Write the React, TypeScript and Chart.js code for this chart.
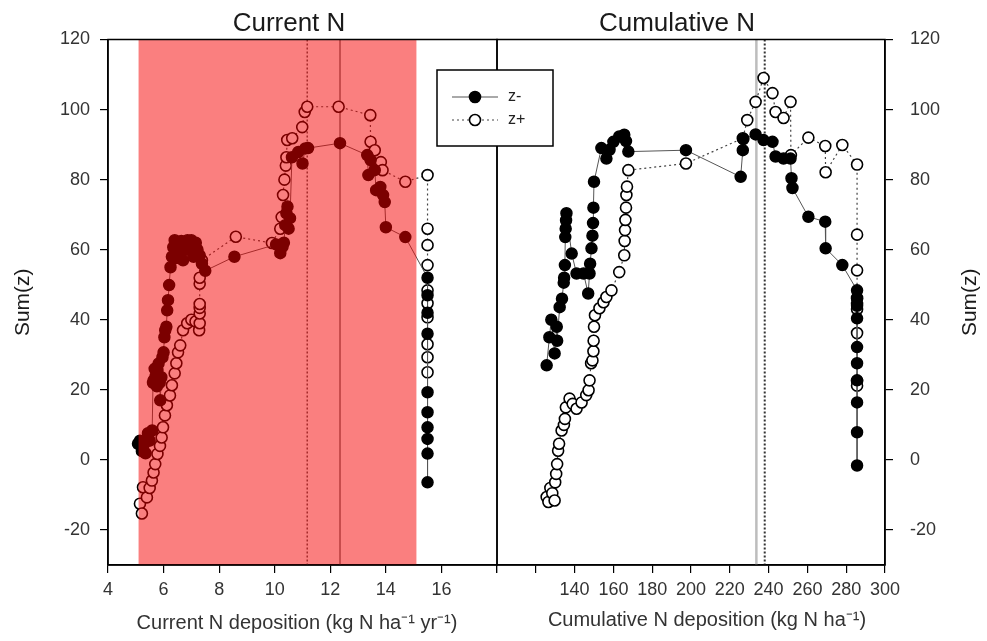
import React, { useEffect, useRef } from "react";
import { Chart, registerables } from "chart.js";
Chart.register(...registerables);

const FONT = '"Liberation Sans", Arial, Helvetica, sans-serif';

// ---------- DATA ----------
// Current N deposition panel: [x (kg N ha-1 yr-1), Sum(z)]
const currentZMinus: number[][] = [
  [5.08, 4.6], [5.15, 5.5], [5.22, 2.5], [5.26, 3.6], [5.35, 1.9], [5.44, 7.6], [5.5, 5.5], [5.59, 8.4],
  [5.62, 22], [5.64, 22.7], [5.68, 26], [5.72, 24], [5.76, 21], [5.78, 25.6], [5.82, 27.5], [5.86, 22],
  [5.88, 17], [5.92, 23.6], [5.96, 29.3], [6.0, 30.7], [6.03, 35], [6.06, 37], [6.1, 38], [6.13, 42.7],
  [6.16, 45.6], [6.2, 49.9], [6.25, 55], [6.3, 58], [6.35, 60.7], [6.4, 62.7], [6.46, 57.6], [6.52, 62],
  [6.58, 59.5], [6.64, 62.5], [6.7, 57], [6.78, 60], [6.86, 62.7], [6.94, 59.9], [7.0, 62.7], [7.08, 58],
  [7.16, 62], [7.22, 60], [7.3, 58.4], [7.38, 56], [7.5, 54], [8.55, 58], [10.05, 61.5], [10.2, 59],
  [10.28, 60.8], [10.33, 62], [10.38, 67], [10.42, 70.4], [10.46, 72.3], [10.5, 66], [10.55, 69],
  [10.62, 86.4], [10.85, 87.9], [11.0, 84.6], [11.1, 88.9], [11.2, 89], [12.35, 90.4], [13.33, 87],
  [13.37, 81.3], [13.45, 85.6], [13.6, 82.7], [13.65, 77], [13.8, 77.9], [13.9, 75.6], [13.96, 73.6],
  [14.0, 66.4], [14.7, 63.6], [15.5, 52], [15.5, 47], [15.5, 42], [15.5, 36], [15.5, 19.3], [15.5, 13.6],
  [15.5, 9.3], [15.5, 6], [15.5, 1.8], [15.5, -6.4],
];
const currentZPlus: number[][] = [
  [5.15, -12.5], [5.22, -15.3], [5.26, -7.8], [5.4, -10.7], [5.5, -8], [5.58, -5.9], [5.64, -3.6],
  [5.7, -1.2], [5.78, 1.7], [5.87, 4], [5.93, 6.4], [5.98, 9.3], [6.05, 12.7], [6.12, 15.6], [6.23, 18.4],
  [6.3, 21.3], [6.4, 24.7], [6.46, 27.6], [6.52, 30.7], [6.6, 32.7], [6.7, 37], [6.85, 39], [7.0, 40],
  [7.15, 39.5], [7.28, 37], [7.3, 39], [7.3, 41.8], [7.3, 43.4], [7.3, 44.5], [7.3, 50.3], [7.3, 52],
  [7.38, 57], [8.6, 63.7], [9.9, 61.9], [10.2, 66], [10.25, 69.3], [10.3, 75.6], [10.35, 80],
  [10.4, 84], [10.42, 86.4], [10.45, 91.3], [10.63, 91.8], [10.99, 95], [11.08, 99.3], [11.17, 100.8],
  [12.3, 100.8], [13.44, 98.4], [13.45, 90.8], [13.6, 88.4], [13.82, 85], [13.88, 82.7], [14.7, 79.4],
  [15.5, 81.3], [15.5, 66], [15.5, 61.3], [15.5, 55.6], [15.5, 48.4], [15.5, 44.7], [15.5, 40.7],
  [15.5, 33], [15.5, 29.3], [15.5, 25],
];

// Cumulative N deposition panel: [x (kg N ha-1), Sum(z)]
const cumulativeZMinus: number[][] = [
  [125.6, 27], [127, 35], [128, 40], [129.7, 30.4], [130.8, 38], [131, 34], [132.3, 43.6], [133.5, 46],
  [134.4, 50.6], [134.6, 52], [135, 55.6], [135.2, 63.6], [135.4, 66], [135.6, 68.4], [135.8, 70.4],
  [138.5, 58.9], [141, 53.2], [144.6, 53.2], [147, 47.5], [147.7, 53.2], [148, 56], [148.7, 60.4],
  [149.2, 64], [149.5, 67.6], [149.7, 72], [150, 79.4], [153.8, 89], [156.4, 86], [158, 88.5],
  [160, 90.8], [163, 92.3], [165.6, 92.8], [166.5, 91], [167.7, 88], [197.4, 88.4], [225.6, 80.8],
  [226.7, 88.4], [227, 91.6], [233.3, 92.9], [237.4, 91.3], [242, 90.8], [243.6, 86.6], [247.7, 86],
  [251.3, 86], [251.8, 80.4], [252.3, 77.6], [260.5, 69.4], [269.2, 68], [269.4, 60.4], [278, 55.6],
  [285.6, 48.4], [285.6, 46], [285.6, 44], [285.6, 40.4], [285.6, 32.2], [285.6, 27.6], [285.6, 22.7],
  [285.6, 16.4], [285.6, 7.9], [285.6, -1.6],
];
const cumulativeZPlus: number[][] = [
  [125.6, -10.6], [126.5, -12], [127.5, -8], [128.5, -9.5], [129.7, -11.6], [130, -6.4], [130.5, -4],
  [131, -1.2], [131.5, 2.6], [132, 4.6], [133.3, 8.4], [134.5, 10], [135, 11.7], [135.5, 15],
  [137.4, 17.5], [139, 16], [141, 14.6], [143.6, 16.4], [146, 18.5], [147.2, 19.9], [147.7, 22.7],
  [148.5, 27.6], [149.2, 28.4], [149.7, 31], [149.8, 34], [150, 38], [150.5, 41.3], [152.8, 43.3],
  [154.9, 45], [156.4, 46.5], [159, 48.4], [163, 53.6], [165.6, 58.4], [165.8, 62.5], [166, 65.6],
  [166.2, 68.5], [166.5, 72], [166.7, 75.6], [167, 78], [167.7, 82.7], [197.4, 84.6], [226.7, 91.8],
  [229, 97], [233.3, 102.2], [237.4, 109], [242, 104.7], [243.6, 99.3], [247.7, 97.6], [251.3, 102.2],
  [251.5, 87], [260.5, 92], [269.2, 89.6], [269.4, 82.1], [278, 89.9], [285.6, 84.3], [285.6, 64.3],
  [285.6, 54.1], [285.6, 46.2], [285.6, 44.5], [285.6, 43], [285.6, 36.2], [285.6, 22.5], [285.6, 21.2],
];

// Change points / shaded range
const currentChangeZMinus = 12.35;
const currentChangeZPlus = 11.17;
const currentBand = [5.1, 15.1];
const cumulativeChangeZMinus = 233.7;
const cumulativeChangeZPlus = 238;

// Ticks
const yTickValues = [-20, 0, 20, 40, 60, 80, 100, 120];
const currentTickValues = [4, 6, 8, 10, 12, 14, 16, 18];
const currentTickLabels = ["4", "6", "8", "10", "12", "14", "16", ""];
const cumulativeTickValues = [100, 120, 140, 160, 180, 200, 220, 240, 260, 280, 300];
const cumulativeTickLabels = ["", "", "140", "160", "180", "200", "220", "240", "260", "280", "300"];

const seriesNames = ["z-", "z+"];
const panelTitles = ["Current N", "Cumulative N"];
const xTitles = ["Current N deposition (kg N ha\u207B\u00B9 yr\u207B\u00B9)", "Cumulative N deposition (kg N ha\u207B\u00B9)"];
const yTitle = "Sum(z)";

// ---------- HELPERS ----------
const toPoints = (arr: number[][]) => arr.map(([x, y]) => ({ x, y }));

function datasets(neg: number[][], pos: number[][]) {
  return [
    {
      label: seriesNames[0],
      data: toPoints(neg),
      showLine: true,
      borderColor: "#555",
      borderWidth: 1,
      pointRadius: 5.5,
      pointBorderWidth: 1.5,
      pointBackgroundColor: "#000",
      pointBorderColor: "#000",
    },
    {
      label: seriesNames[1],
      data: toPoints(pos),
      showLine: true,
      borderColor: "#444",
      borderWidth: 1.2,
      borderDash: [2, 3],
      pointRadius: 5.5,
      pointBorderWidth: 1.6,
      pointBackgroundColor: "#fff",
      pointBorderColor: "#000",
    },
  ];
}

function scales(xMin: number, xMax: number, xTicks: number[], xLabels: string[], yPos: "left" | "right", yWidth: number) {
  const grid = { drawOnChartArea: false, drawTicks: true, tickLength: 8, color: "#000", lineWidth: 1.2 };
  const border = { display: true, color: "#000", width: 1.5 };
  return {
    x: {
      type: "linear" as const,
      min: xMin,
      max: xMax,
      afterBuildTicks: (s: any) => { s.ticks = xTicks.map((v) => ({ value: v })); },
      afterFit: (s: any) => { s.height = 76; },
      border,
      grid,
      ticks: {
        autoSkip: false,
        maxRotation: 0,
        padding: 6,
        color: "#333",
        font: { family: FONT, size: 18 },
        callback: (_v: any, i: number) => xLabels[i],
      },
    },
    y: {
      type: "linear" as const,
      position: yPos,
      min: -30,
      max: 120,
      afterBuildTicks: (s: any) => { s.ticks = yTickValues.map((v) => ({ value: v })); },
      afterFit: (s: any) => { s.width = yWidth; },
      border,
      grid,
      ticks: {
        autoSkip: false,
        padding: yPos === "left" ? 10 : 17,
        color: "#333",
        font: { family: FONT, size: 18 },
        callback: (v: any) => String(v),
      },
    },
  };
}

function vline(ctx: CanvasRenderingContext2D, chart: any, xv: number, color: string, width: number, dash: number[]) {
  const { top, bottom } = chart.chartArea;
  const px = chart.scales.x.getPixelForValue(xv);
  ctx.save();
  ctx.strokeStyle = color;
  ctx.lineWidth = width;
  ctx.setLineDash(dash);
  ctx.beginPath();
  ctx.moveTo(px, top);
  ctx.lineTo(px, bottom);
  ctx.stroke();
  ctx.restore();
}

function frame(ctx: CanvasRenderingContext2D, chart: any) {
  const { left, right, top, bottom } = chart.chartArea;
  ctx.save();
  ctx.strokeStyle = "#000";
  ctx.lineWidth = 1.5;
  ctx.strokeRect(left, top, right - left, bottom - top);
  ctx.restore();
}

function text(ctx: CanvasRenderingContext2D, s: string, x: number, y: number, size: number, rot = 0, color = "#1a1a1a") {
  ctx.save();
  ctx.translate(x, y);
  ctx.rotate(rot);
  ctx.font = `${size}px ${FONT}`;
  ctx.fillStyle = color;
  ctx.textAlign = "center";
  ctx.textBaseline = "middle";
  ctx.fillText(s, 0, 0);
  ctx.restore();
}

const leftPlugin = {
  id: "leftDecor",
  beforeDatasetsDraw(chart: any) {
    const ctx = chart.ctx;
    vline(ctx, chart, currentChangeZPlus, "#555", 1.5, [2, 2]);
    vline(ctx, chart, currentChangeZMinus, "#777", 1.5, []);
  },
  afterDatasetsDraw(chart: any) {
    const ctx = chart.ctx;
    const { top, bottom } = chart.chartArea;
    const x0 = chart.scales.x.getPixelForValue(currentBand[0]);
    const x1 = chart.scales.x.getPixelForValue(currentBand[1]);
    ctx.save();
    ctx.fillStyle = "rgba(245,0,0,0.5)";
    ctx.fillRect(x0, top, x1 - x0, bottom - top);
    ctx.restore();
  },
  afterDraw(chart: any) {
    const ctx = chart.ctx;
    frame(ctx, chart);
    const { top, bottom } = chart.chartArea;
    text(ctx, panelTitles[0], 289, 24, 26);
    text(ctx, yTitle, 23, (top + bottom) / 2, 21, -Math.PI / 2);
    text(ctx, xTitles[0], 297, 623, 20, 0, "#333");
  },
};

const rightPlugin = {
  id: "rightDecor",
  beforeDatasetsDraw(chart: any) {
    const ctx = chart.ctx;
    vline(ctx, chart, cumulativeChangeZMinus, "#bdbdbd", 2.5, []);
    vline(ctx, chart, cumulativeChangeZPlus, "#333", 2, [2, 2]);
  },
  afterDraw(chart: any) {
    const ctx = chart.ctx;
    frame(ctx, chart);
    const { top, bottom } = chart.chartArea;
    text(ctx, panelTitles[1], 677, 24, 26);
    text(ctx, yTitle, 970, (top + bottom) / 2, 21, -Math.PI / 2);
    text(ctx, xTitles[1], 707, 620, 20, 0, "#333");

    // legend box
    ctx.save();
    ctx.fillStyle = "#fff";
    ctx.fillRect(437, 70, 116, 76);
    ctx.strokeStyle = "#000";
    ctx.lineWidth = 1.5;
    ctx.strokeRect(437, 70, 116, 76);
    const rows = [97, 120];
    rows.forEach((ry, i) => {
      ctx.beginPath();
      ctx.strokeStyle = i === 0 ? "#555" : "#444";
      ctx.lineWidth = 1.2;
      ctx.setLineDash(i === 0 ? [] : [2, 3]);
      ctx.moveTo(452, ry);
      ctx.lineTo(498, ry);
      ctx.stroke();
      ctx.setLineDash([]);
      ctx.beginPath();
      ctx.arc(475, ry, 5.5, 0, Math.PI * 2);
      ctx.fillStyle = i === 0 ? "#000" : "#fff";
      ctx.fill();
      ctx.strokeStyle = "#000";
      ctx.lineWidth = 1.6;
      ctx.stroke();
      ctx.font = `16px ${FONT}`;
      ctx.fillStyle = "#222";
      ctx.textAlign = "left";
      ctx.textBaseline = "middle";
      ctx.fillText(seriesNames[i], 508, ry);
    });
    ctx.restore();
  },
};

export default function App() {
  const leftRef = useRef<HTMLCanvasElement>(null);
  const rightRef = useRef<HTMLCanvasElement>(null);

  useEffect(() => {
    const common = {
      responsive: false,
      animation: false as const,
      devicePixelRatio: 1,
      events: [] as any[],
      plugins: { legend: { display: false }, title: { display: false }, tooltip: { enabled: false } },
    };
    const left = new Chart(leftRef.current!, {
      type: "scatter",
      data: { datasets: datasets(currentZMinus, currentZPlus) as any },
      options: {
        ...common,
        layout: { padding: { left: 0, right: 490, top: 39.5, bottom: 0 } },
        scales: scales(4, 18, currentTickValues, currentTickLabels, "left", 108) as any,
      },
      plugins: [leftPlugin],
    });
    const right = new Chart(rightRef.current!, {
      type: "scatter",
      data: { datasets: datasets(cumulativeZMinus, cumulativeZPlus) as any },
      options: {
        ...common,
        layout: { padding: { left: 497, right: 0, top: 39.5, bottom: 0 } },
        scales: scales(100, 300, cumulativeTickValues, cumulativeTickLabels, "right", 102) as any,
      },
      plugins: [rightPlugin],
    });
    return () => {
      left.destroy();
      right.destroy();
    };
  }, []);

  return (
    <div style={{ position: "fixed", left: 0, top: 0, width: 987, height: 641, background: "#fff" }}>
      <canvas ref={leftRef} width={987} height={641} style={{ position: "absolute", left: 0, top: 0 }} />
      <canvas ref={rightRef} width={987} height={641} style={{ position: "absolute", left: 0, top: 0 }} />
    </div>
  );
}
